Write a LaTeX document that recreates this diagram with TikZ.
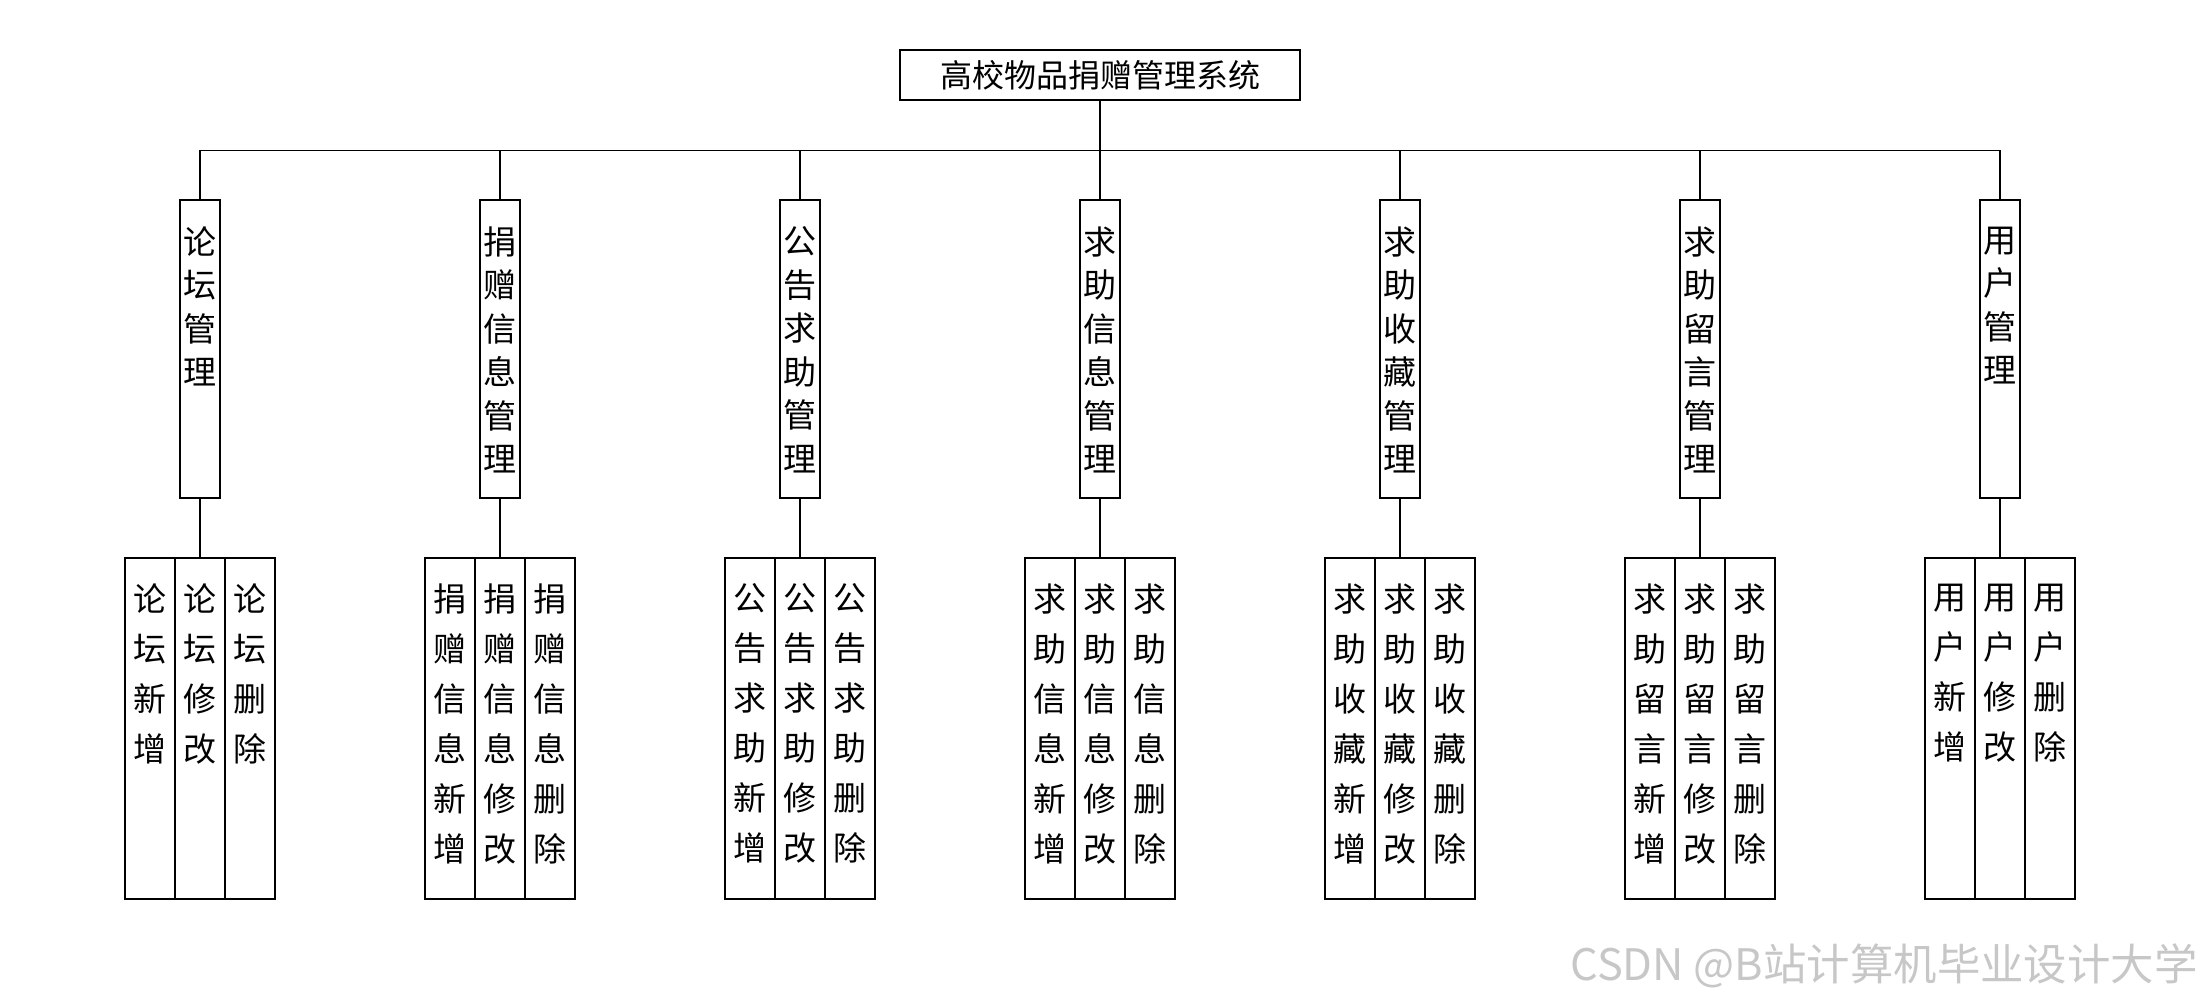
\documentclass[tikz,border=0pt]{standalone}
\usepackage{fontspec}
\newfontfamily\cjk{Noto Sans CJK SC}
\begin{document}
\begin{tikzpicture}[x=0.5pt,y=-0.5pt,
  line width=0.7pt,
  every node/.style={font=\cjk},
  rootbox/.style={draw,rectangle,minimum width=200pt,minimum height=25pt,inner sep=0pt,font=\cjk\fontsize{16}{18}\selectfont},
  modbox/.style={draw,rectangle,minimum width=20pt,minimum height=149pt,inner sep=0pt},
  leafbox/.style={draw,rectangle,minimum width=25pt,minimum height=170.5pt,inner sep=0pt},
  modtext/.style={anchor=north,inner sep=0pt,yshift=-13.3pt,align=center,font=\cjk\fontsize{16.5}{21.75}\selectfont},
  leaftext/.style={anchor=north,inner sep=0pt,yshift=-12.8pt,align=center,font=\cjk\fontsize{16.5}{25}\selectfont},
  wm/.style={text=black!22,font=\cjk\fontsize{21.7}{24}\selectfont,inner sep=0pt}
]
\useasboundingbox (0,0) rectangle (2200,1000);

\node[rootbox] (root) at (1100,75) {高校物品捐赠管理系统};

% modules
\newcommand{\modnode}[3]{%
  \node[modbox,label={[modtext]north:#3}] (m#1) at (#2,349) {};
}
\modnode{1}{200}{论\\坛\\管\\理}
\modnode{2}{500}{捐\\赠\\信\\息\\管\\理}
\modnode{3}{800}{公\\告\\求\\助\\管\\理}
\modnode{4}{1100}{求\\助\\信\\息\\管\\理}
\modnode{5}{1400}{求\\助\\收\\藏\\管\\理}
\modnode{6}{1700}{求\\助\\留\\言\\管\\理}
\modnode{7}{2000}{用\\户\\管\\理}

% leaves
\newcommand{\leafgroup}[3]{%
  \node[leafbox,label={[leaftext]north:#3\\新\\增}] (l#1a) at (#2-50,728.5) {};
  \node[leafbox,label={[leaftext]north:#3\\修\\改}] (l#1b) at (#2,728.5) {};
  \node[leafbox,label={[leaftext]north:#3\\删\\除}] (l#1c) at (#2+50,728.5) {};
}
\leafgroup{1}{200}{论\\坛}
\leafgroup{2}{500}{捐\\赠\\信\\息}
\leafgroup{3}{800}{公\\告\\求\\助}
\leafgroup{4}{1100}{求\\助\\信\\息}
\leafgroup{5}{1400}{求\\助\\收\\藏}
\leafgroup{6}{1700}{求\\助\\留\\言}
\leafgroup{7}{2000}{用\\户}

% connectors
\foreach \i in {1,...,7}{
  \draw (root.south) -- ++(0,50) -| (m\i.north);
  \draw (m\i.south) -- (l\i b.north);
}

\node[wm] (mark) at (1884,966) {CSDN @B站计算机毕业设计大学};
\end{tikzpicture}
\end{document}
